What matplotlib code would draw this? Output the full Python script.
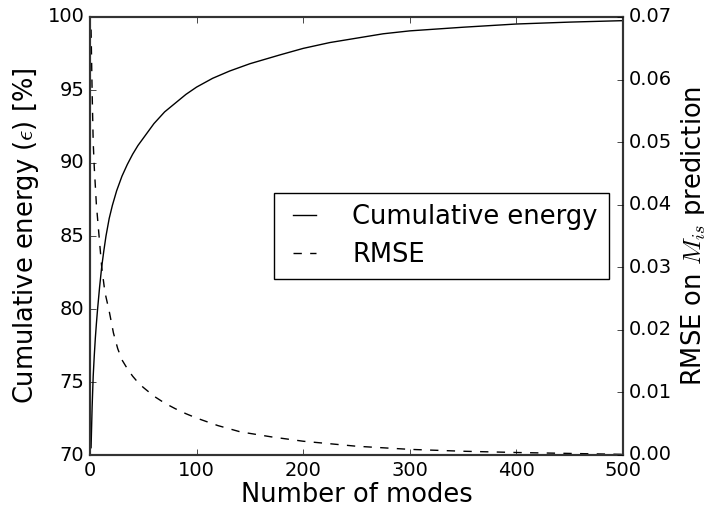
import matplotlib

matplotlib.use("Agg")
import matplotlib.pyplot as plt

# values
energy_modes = [1, 2, 3, 4, 5, 6, 7, 9, 11, 13, 15, 18, 21, 25, 30, 35, 40, 45, 50, 55, 60, 70, 80, 90, 100,
                115, 131, 150, 178, 200, 225, 250, 275, 300, 350, 400, 450, 500]
energy_pct = [70.5, 73.3, 75.4, 76.8, 78.0, 79.0, 79.9, 81.5, 82.9, 84.0, 85.0, 86.2, 87.1, 88.1, 89.1, 89.9,
              90.6, 91.2, 91.7, 92.2, 92.7, 93.5, 94.1, 94.7, 95.2, 95.8, 96.3, 96.8, 97.4, 97.85, 98.25,
              98.55, 98.85, 99.05, 99.3, 99.52, 99.65, 99.75]

rmse_modes = [1, 2, 3, 4, 5, 6, 7, 9, 11, 14, 18, 22, 26, 30, 35, 40, 45, 50, 60, 70, 80, 90, 100, 120, 141,
              170, 200, 250, 300, 350, 400, 450, 500]
rmse_vals = [0.068, 0.058, 0.050, 0.046, 0.043, 0.040, 0.038, 0.034, 0.030, 0.026, 0.023, 0.0195, 0.017,
             0.0152, 0.0138, 0.0126, 0.0116, 0.0108, 0.0094, 0.0083, 0.0074, 0.0066, 0.0059, 0.0047, 0.0037,
             0.0029, 0.0022, 0.0014, 0.0009, 0.0006, 0.0004, 0.00025, 0.0001]

plt.style.use("classic")
fig = plt.figure(figsize=(7.04, 5.09), dpi=100)
ax = fig.add_axes([90 / 704, 54 / 509, 533 / 704, 438 / 509])
ax2 = ax.twinx()

l1, = ax.plot(energy_modes, energy_pct, color="black", linestyle="-", linewidth=1.0, label="Cumulative energy")
l2, = ax2.plot(rmse_modes, rmse_vals, color="black", linestyle="--", linewidth=1.0, label="RMSE")

ax.set_xlim(0, 500)
ax.set_ylim(70, 100)
ax2.set_ylim(0, 0.07)
ax.set_xticks([0, 100, 200, 300, 400, 500])
ax.set_yticks([70, 75, 80, 85, 90, 95, 100])
ax2.set_yticks([0.0, 0.01, 0.02, 0.03, 0.04, 0.05, 0.06, 0.07])

ax.tick_params(labelsize=14)
ax2.tick_params(labelsize=14)
for a in (ax, ax2):
    for s in a.spines.values():
        s.set_color("#333333")
        s.set_linewidth(1.5)

ax.set_xlabel("Number of modes", fontsize=18.5, labelpad=2)
ax.set_ylabel(r"Cumulative energy ($\epsilon$) [%]", fontsize=18.5)
ax2.set_ylabel(r"RMSE on $M_{is}$ prediction", fontsize=18.5)

ax.legend([l1, l2], ["Cumulative energy", "RMSE"], loc="center right", fontsize=18.5,
          handlelength=1.5, handletextpad=1.1, borderpad=0.45, labelspacing=0.45,
          bbox_to_anchor=(0.974, 0.5), borderaxespad=0)

fig.savefig("out.png", dpi=100)
